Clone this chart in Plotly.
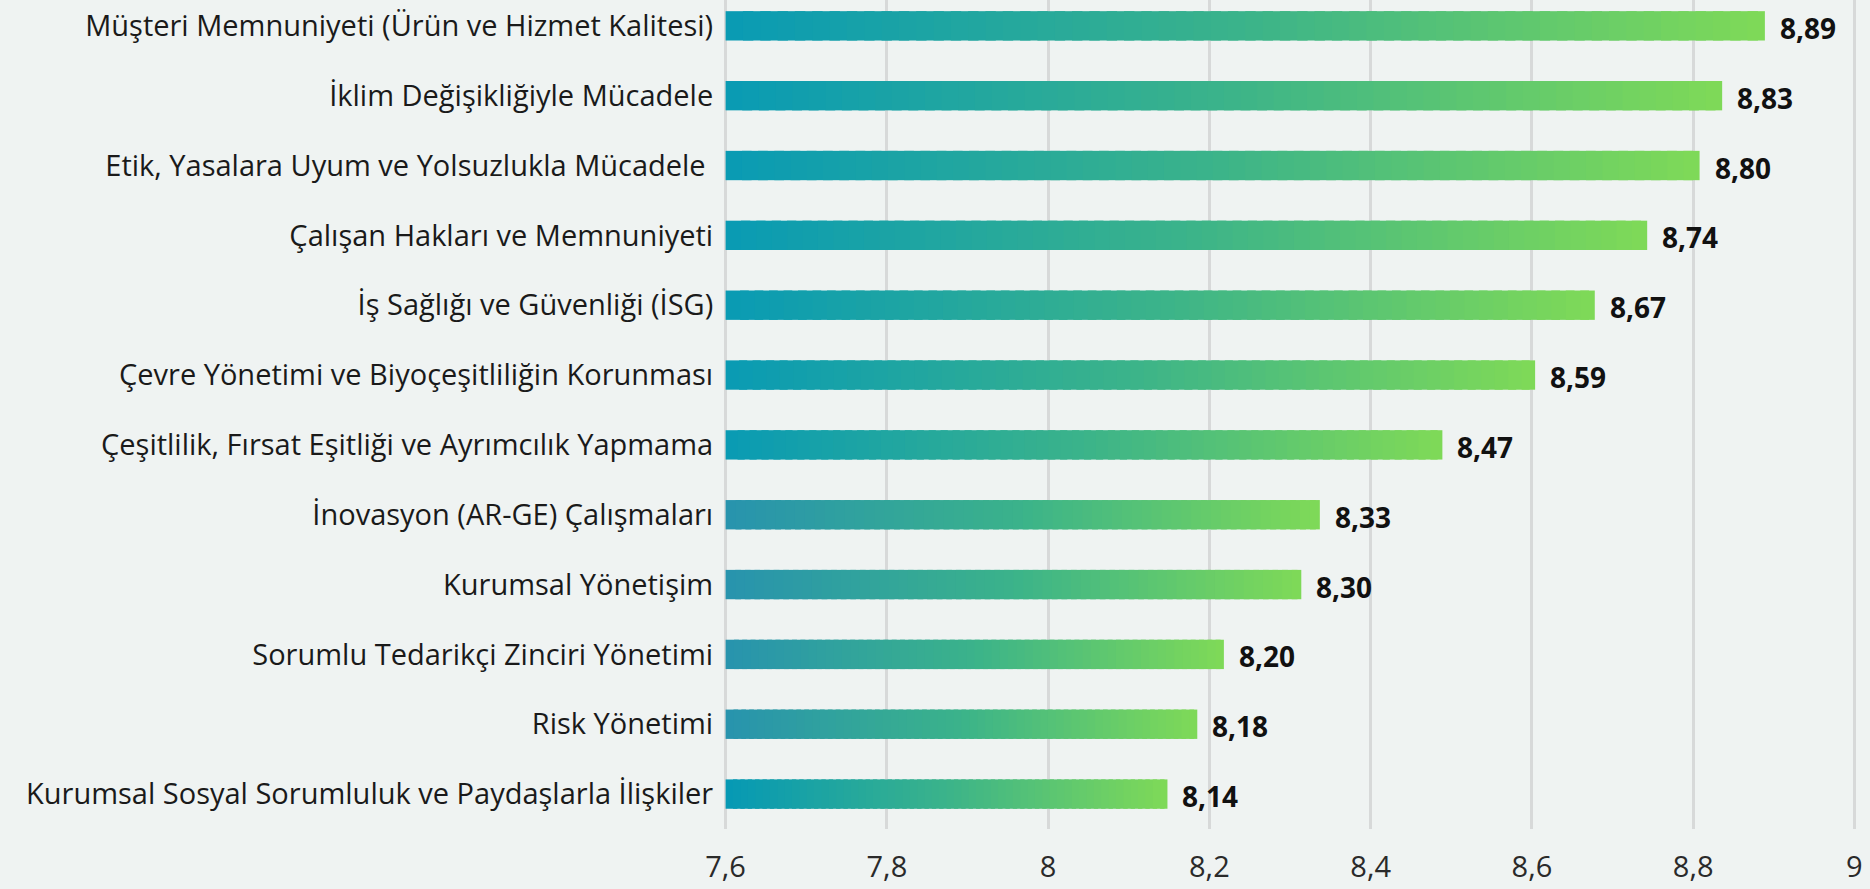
import plotly.graph_objects as go

# topics from bottom to top, as plotly stacks categories upward
topics = [
    "Kurumsal Sosyal Sorumluluk ve Paydaşlarla İlişkiler",
    "Risk Yönetimi",
    "Sorumlu Tedarikçi Zinciri Yönetimi",
    "Kurumsal Yönetişim",
    "İnovasyon (AR-GE) Çalışmaları",
    "Çeşitlilik, Fırsat Eşitliği ve Ayrımcılık Yapmama",
    "Çevre Yönetimi ve Biyoçeşitliliğin Korunması",
    "İş Sağlığı ve Güvenliği (İSG)",
    "Çalışan Hakları ve Memnuniyeti",
    "Etik, Yasalara Uyum ve Yolsuzlukla Mücadele\u00a0",
    "İklim Değişikliğiyle Mücadele",
    "Müşteri Memnuniyeti (Ürün ve Hizmet Kalitesi)",
]
# bar ends as drawn in the source (slightly past the printed scores)
bar_values = [8.148, 8.185, 8.218, 8.314, 8.337, 8.489, 8.604, 8.678, 8.743, 8.808, 8.836, 8.889]
score_labels = ["8,14", "8,18", "8,20", "8,30", "8,33", "8,47", "8,59", "8,67", "8,74", "8,80", "8,83", "8,89"]
x_ticks = [7.6, 7.8, 8.0, 8.2, 8.4, 8.6, 8.8, 9.0]
x_tick_labels = ["7,6", "7,8", "8", "8,2", "8,4", "8,6", "8,8", "9"]

axis_start = 7.6
font = "Open Sans"
bg = "#eff3f2"

# gradient colours (left end per bar, common green right end)
start_cols = ["#0699b4", "#2894ad", "#2894ad", "#2894ad", "#2894ad",
              "#0a9bb3", "#0a9bb3", "#0a9bb3", "#0a9bb3", "#0a9bb3", "#0a9bb3", "#0a9bb3"]
end_col = (0x7e, 0xd9, 0x58)
mid_col = (0x3b, 0xb3, 0x8a)


def hex_rgb(h):
    return tuple(int(h[i:i + 2], 16) for i in (1, 3, 5))


def blend(t, c0):
    # two-stop gradient via a mid colour
    if t < 0.5:
        a, b, u = c0, mid_col, t / 0.5
    else:
        a, b, u = mid_col, end_col, (t - 0.5) / 0.5
    return "rgb(%d,%d,%d)" % tuple(round(a[i] + (b[i] - a[i]) * u) for i in range(3))


# each bar is cut into thin slices of changing colour to fake a gradient;
# slices overlap a little so no seams show
steps = 60
seg_y, seg_base, seg_len, seg_col = [], [], [], []
for topic, val, c in zip(topics, bar_values, start_cols):
    c0 = hex_rgb(c)
    span = val - axis_start
    for k in range(steps):
        b = axis_start + span * k / steps
        e = axis_start + span * min(k + 1.6, steps) / steps
        seg_y.append(topic)
        seg_base.append(b)
        seg_len.append(e - b)
        seg_col.append(blend(k / (steps - 1), c0))

fig = go.Figure()
fig.add_trace(
    go.Bar(
        y=seg_y,
        x=seg_len,
        base=seg_base,
        orientation="h",
        marker=dict(color=seg_col, line_width=0),
        width=0.42,
        hoverinfo="skip",
        showlegend=False,
    )
)

for topic, val, lab in zip(topics, bar_values, score_labels):
    fig.add_annotation(
        x=val,
        y=topic,
        text="<b>%s</b>" % lab,
        showarrow=False,
        xanchor="left",
        xshift=13,
        yshift=-2,
        font=dict(family=font, size=28, color="#111111"),
    )

fig.update_layout(
    width=1870,
    height=889,
    margin=dict(l=724, r=14, t=0, b=60, autoexpand=False),
    plot_bgcolor=bg,
    paper_bgcolor=bg,
    font=dict(family=font, size=26, color="#1a1a1a"),
    barmode="overlay",
    showlegend=False,
)

# range padded a hair so the edge gridlines at 7,6 and 9 still show
fig.update_xaxes(
    range=[7.598, 9.002],
    tickvals=x_ticks,
    ticktext=x_tick_labels,
    showgrid=True,
    gridcolor="#d7d9d9",
    gridwidth=3,
    zeroline=False,
    showline=False,
    automargin=False,
    ticklabelstandoff=18,
    tickfont=dict(size=29, color="#2a2a2a"),
)

fig.update_yaxes(
    categoryorder="array",
    categoryarray=topics,
    range=[-0.5, 11.37],
    showgrid=False,
    zeroline=False,
    automargin=False,
    ticks="outside",
    ticklen=4,
    tickcolor="rgba(0,0,0,0)",
    tickfont=dict(size=29, color="#1a1a1a"),
)

# drop the default page margin so the figure sits flush in the window
fig.write_html(
    "out.html",
    config={"displayModeBar": False},
    post_script="document.body.style.margin='0';document.body.style.background='%s';" % bg,
)
